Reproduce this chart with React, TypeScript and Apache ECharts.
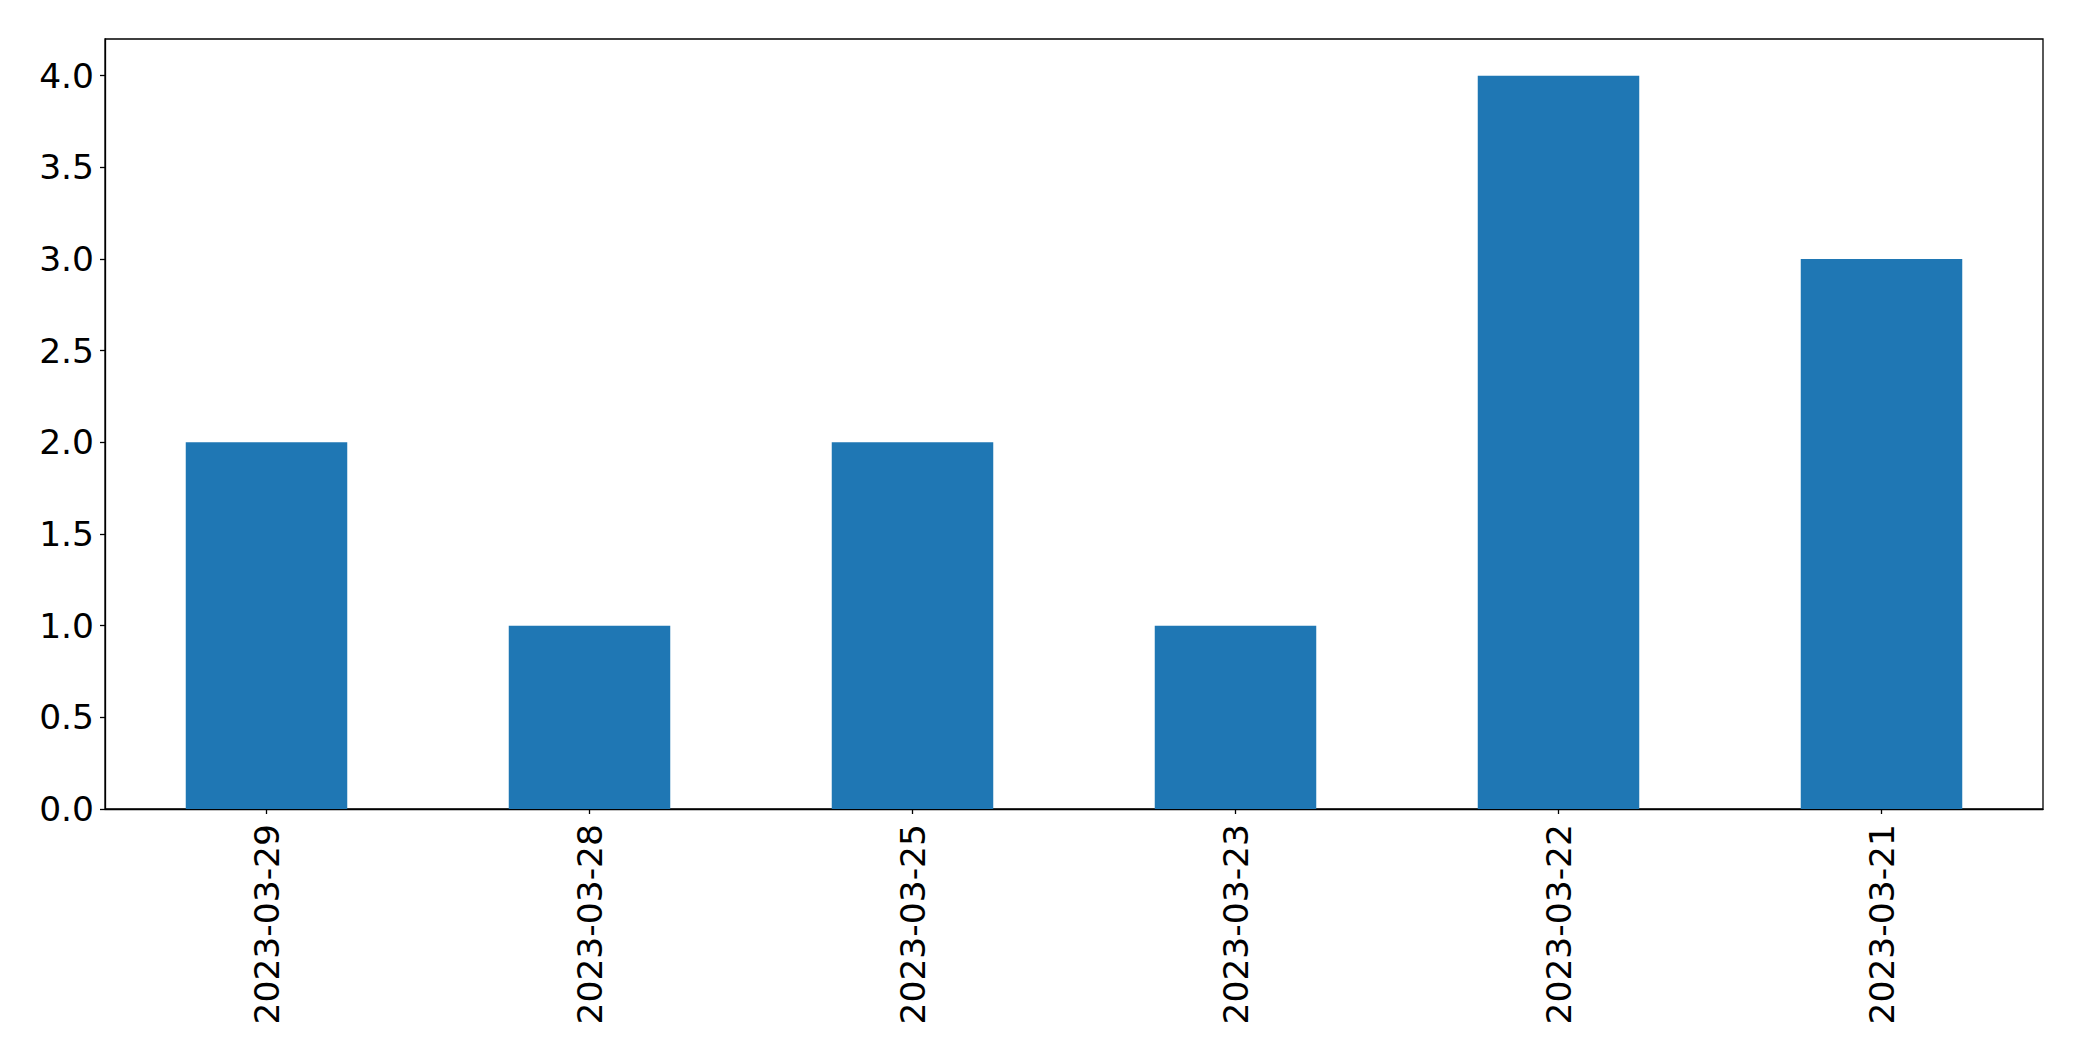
import React, { useEffect, useRef } from "react";
import * as echarts from "echarts";

const categories = ["2023-03-29", "2023-03-28", "2023-03-25", "2023-03-23", "2023-03-22", "2023-03-21"];
const counts = [2, 1, 2, 1, 4, 3];
const yTicks = [0, 0.5, 1.0, 1.5, 2.0, 2.5, 3.0, 3.5, 4.0];
const yMax = 4.2;

export default function App() {
  const ref = useRef<HTMLDivElement>(null);
  useEffect(() => {
    document.body.style.margin = "0";
    const chart = echarts.init(ref.current!, null, { renderer: "svg" });
    const font = "DejaVu Sans";
    chart.setOption({
      animation: false,
      backgroundColor: "#ffffff",
      grid: {
        left: 105,
        top: 39,
        right: 39,
        bottom: 252,
        show: true,
        borderColor: "#000000",
        borderWidth: 1.3,
        backgroundColor: "transparent",
        containLabel: false,
        outerBoundsMode: "none",
      },
      xAxis: {
        type: "category",
        data: categories,
        axisLine: { show: true, lineStyle: { color: "#000", width: 1.3 } },
        axisTick: { show: true, alignWithLabel: true, length: 5, lineStyle: { color: "#000", width: 1.3 } },
        axisLabel: {
          rotate: 90,
          margin: 15,
          color: "#000",
          fontSize: 34.5,
          fontFamily: font,
          interval: 0,
        },
        splitLine: { show: false },
      },
      yAxis: {
        type: "value",
        min: 0,
        max: yMax,
        axisLine: { show: true, lineStyle: { color: "#000", width: 1.3 } },
        axisTick: { show: true, length: 5, customValues: yTicks, lineStyle: { color: "#000", width: 1.3 } },
        axisLabel: {
          margin: 11,
          color: "#000",
          fontSize: 34.5,
          fontFamily: font,
          customValues: yTicks,
          formatter: (v: number) => v.toFixed(1),
        },
        splitLine: { show: false },
      },
      series: [
        {
          type: "bar",
          data: counts,
          barCategoryGap: "50%",
          itemStyle: { color: "#1f77b4" },
        },
      ],
    });
    return () => chart.dispose();
  }, []);
  return <div ref={ref} style={{ width: 2082, height: 1061 }} />;
}
